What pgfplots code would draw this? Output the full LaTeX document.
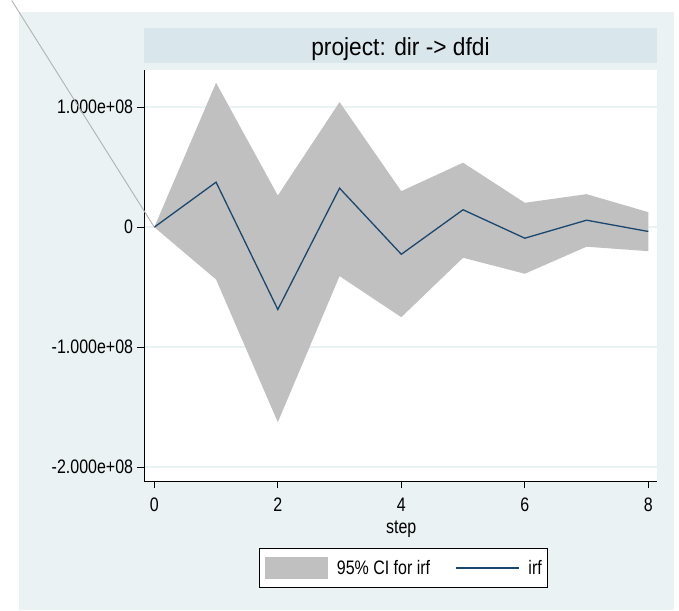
\documentclass[border=0pt]{standalone}
\usepackage{pgfplots}
\pgfplotsset{compat=1.18}
\usepackage{pgfplotstable}
\usepackage{fontspec}
\setmainfont{Liberation Sans}[FakeStretch=0.82]
\newfontfamily\titlefont{Liberation Sans}[FakeStretch=0.92]
\definecolor{bgblue}{RGB}{234,242,243}
\definecolor{stripblue}{RGB}{217,230,235}
\definecolor{cigray}{RGB}{192,192,192}
\definecolor{stnavy}{RGB}{26,71,111}
\definecolor{gridc}{RGB}{234,242,243}

% impulse response and its 95% band
\pgfplotstableread{
step irf lo hi
0 0 0 0
1 0.375e8 -0.436e8 1.203e8
2 -0.686e8 -1.625e8 0.264e8
3 0.325e8 -0.408e8 1.042e8
4 -0.226e8 -0.75e8 0.30e8
5 0.145e8 -0.255e8 0.537e8
6 -0.092e8 -0.388e8 0.203e8
7 0.058e8 -0.163e8 0.275e8
8 -0.036e8 -0.20e8 0.125e8
}\irfdata

% the band as one closed outline: upper bound 0..8, then lower bound 8..0
\pgfplotstableread{
step ci
0 0
1 1.203e8
2 0.264e8
3 1.042e8
4 0.30e8
5 0.537e8
6 0.203e8
7 0.275e8
8 0.125e8
8 -0.20e8
7 -0.163e8
6 -0.388e8
5 -0.255e8
4 -0.75e8
3 -0.408e8
2 -1.625e8
1 -0.436e8
0 0
}\banddata

\begin{document}
\begin{tikzpicture}
\fill[white] (0,0) rectangle (679bp,610bp);
\fill[bgblue] (19bp,0) rectangle (674bp,598bp);
\begin{axis}[
  at={(144bp,129bp)}, anchor=south west,
  scale only axis, width=513bp, height=411bp,
  xmin=-0.167, xmax=8.141, ymin=-2.119e8, ymax=1.306e8,
  axis x line*=bottom, axis y line*=left,
  axis line style={-, black, line width=0.8bp},
  axis background/.style={fill=white},
  xtick={0,2,4,6,8}, ytick={-2e8,-1e8,0,1e8},
  yticklabels={-2.000e+08,-1.000e+08,0,1.000e+08},
  scaled y ticks=false,
  /pgf/number format/assume math mode=true,
  tick align=outside, major tick length=7bp,
  tick style={black, line width=0.8bp},
  ymajorgrids, grid style={gridc, line width=1.5bp},
  tick label style={font=\fontsize{19.5bp}{22bp}\selectfont, inner sep=0pt},
  xticklabel style={anchor=north, yshift=-9.7bp},
  yticklabel style={anchor=east, xshift=-3.7bp},
  xlabel={step},
  xlabel style={at={(axis description cs:0.5015,-0.1258)}, anchor=base, inner sep=0pt, font=\fontsize{19.5bp}{22bp}\selectfont},
  title={\titlefont project: dir -> dfdi},
  title style={at={(0.5,1)}, anchor=south, yshift=1bp, fill=stripblue, minimum width=513bp, minimum height=35bp, inner sep=0pt, text height=19.5bp, text depth=0pt, font=\fontsize{24.7bp}{28bp}\selectfont},
  legend columns=2,
  legend style={at={(0.5058,-0.2105)}, anchor=center, draw=black, line width=0.8bp, fill=white,
    inner xsep=6bp, inner ysep=8bp, font=\fontsize{19.5bp}{22bp}\selectfont,
    nodes={inner sep=0pt},
    /tikz/every odd column/.append style={column sep=9bp},
    /tikz/every even column/.append style={column sep=25bp}},
]
\addplot[fill=cigray, draw=none, mark=none,
  legend image code/.code={\fill[cigray] (0bp,-11.15bp) rectangle (62.7bp,11.15bp);}]
  table[x=step,y=ci]{\banddata} -- cycle;
\addlegendentry{95\% CI for irf}
\addplot[stnavy, line width=1.3bp, mark=none,
  legend image code/.code={\draw[stnavy, line width=1.3bp] (0bp,0bp) -- (63bp,0bp);}]
  table[x=step,y=irf]{\irfdata};
\addlegendentry{irf}
\end{axis}
\draw[black!30, line width=0.9bp] (11.7bp,610bp) -- (154.3bp,383.3bp);
\end{tikzpicture}
\end{document}
